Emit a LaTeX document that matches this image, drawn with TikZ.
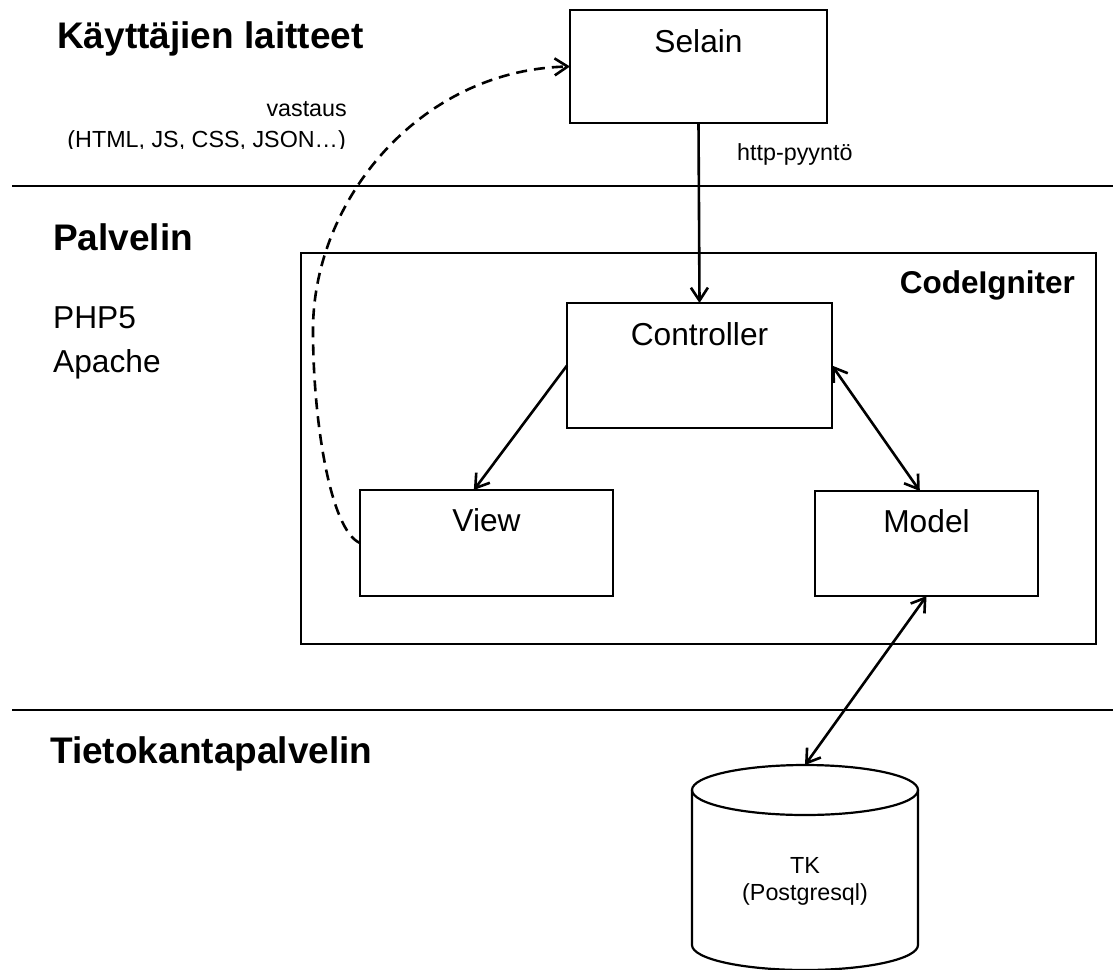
\documentclass[tikz,border=0pt]{standalone}
\usepackage{fontspec}
\setmainfont{Liberation Sans}
\usetikzlibrary{arrows.meta,calc}
\tikzset{
  box/.style={draw, line width=2.2pt, inner sep=0pt, outer sep=0pt},
  sepline/.style={line width=2.6pt},
  head/.style={font=\fontsize{37}{40}\selectfont\bfseries, inner sep=0pt},
  big/.style={font=\fontsize{31.7}{36}\selectfont, inner sep=0pt},
  bigbold/.style={font=\fontsize{31.5}{36}\selectfont\bfseries, inner sep=0pt},
  small/.style={font=\fontsize{23.3}{27}\selectfont, inner sep=0pt},
  barb/.tip={Straight Barb[length=13pt,width=17pt]},
  conn/.style={line width=2.6pt, -barb},
  biconn/.style={line width=2.6pt, barb-barb},
  resp/.style={line width=2.6pt, dash pattern=on 11pt off 7pt, -barb},
}
\begin{document}
\begin{tikzpicture}[x=1pt,y=-1pt]
\useasboundingbox (0,0) rectangle (1113,969);
% separators
\coordinate (l1a) at (12,186); \coordinate (l1b) at (1113,186);
\coordinate (l2a) at (12,710); \coordinate (l2b) at (1113,710);
\draw[sepline] (l1a) -- (l1b);
\draw[sepline] (l2a) -- (l2b);
% section titles
\node[head, anchor=base west] (t1) at (57,48) {Käyttäjien laitteet};
\node[head, anchor=base west] (t2) at (53,250) {Palvelin};
\node[big, anchor=base west] (php) at (53,328) {PHP5};
\node[big, anchor=base west] (apache) at (53,372) {Apache};
\node[head, anchor=base west] (t3) at (50,763) {Tietokantapalvelin};
% boxes
\node[box, minimum width=257pt, minimum height=113pt] (selain) at (698.5,66.5) {};
\node[box, minimum width=795pt, minimum height=391pt] (ci) at (698.5,448.5) {};
\node[box, minimum width=265pt, minimum height=125pt] (ctrl) at (699.5,365.5) {};
\node[box, minimum width=253pt, minimum height=106pt] (view) at (486.5,543) {};
\node[box, minimum width=223pt, minimum height=105pt] (model) at (926.5,543.5) {};
% box texts
\node[big, anchor=base] (selainT) at ($(selain.north)+(0,42)$) {Selain};
\node[big, anchor=base] (ctrlT) at ($(ctrl.north)+(0,42)$) {Controller};
\node[big, anchor=base] (viewT) at ($(view.north)+(0,41)$) {View};
\node[big, anchor=base] (modelT) at ($(model.north)+(0,41)$) {Model};
\node[bigbold, anchor=base east] (ciT) at (1075,293) {CodeIgniter};
% database cylinder
\coordinate (dbtop) at (805,765);
\draw[line width=2.2pt] (692,790) -- (692,945)
  arc[start angle=180, end angle=360, x radius=113pt, y radius=25pt] -- (918,790);
\draw[line width=2.2pt] (805,790) ellipse [x radius=113pt, y radius=25pt];
\node[small, anchor=base] (tk) at (805,873) {TK};
\node[small, anchor=base] (pg) at (805,900) {(Postgresql)};
% labels
\node[small, anchor=base west] (http) at (737,160) {http-pyyntö};
\node[small, anchor=base east] (resp1) at (347,116) {vastaus};
\begin{scope}
  \clip (0,0) rectangle (1113,148);
  \node[small, anchor=base east] (resp2) at (346,147) {(HTML, JS, CSS, JSON…)};
\end{scope}
% connectors
\draw[conn] (selain.south) -- (ctrl.north);
\draw[conn] (ctrl.west) -- ($(view.north west)!0.45!(view.north east)$);
\draw[biconn] (ctrl.east) -- ($(model.north west)!0.47!(model.north east)$);
\draw[biconn] (model.south) -- (dbtop);
\coordinate (dmid) at (313,330);
\draw[resp] (view.west) .. controls (330,530) and (313,420) .. (dmid)
  .. controls (313,200) and (420,70) .. (selain.west);
\end{tikzpicture}
\end{document}
